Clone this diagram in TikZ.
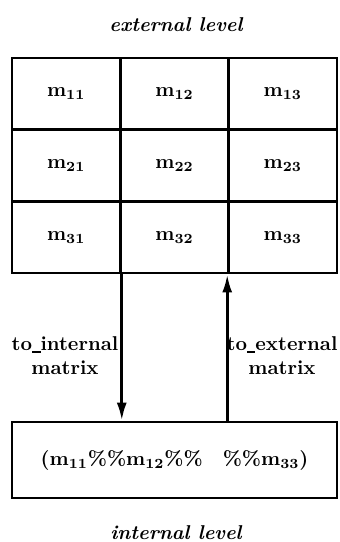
\documentclass[tikz,border=0pt]{standalone}
\usepackage{tikz}
\usetikzlibrary{arrows.meta, positioning}
\newcommand{\melem}[1]{m$_{\mathbf{#1}}$}
\newcommand{\uscore}{\rule[-0.2ex]{0.42em}{0.9pt}}

\begin{document}
\begin{tikzpicture}[x=0.5pt, y=-0.5pt,
    cell/.style={draw, line width=1.4pt, minimum width=54.17pt, minimum height=35.83pt, inner sep=0pt, font=\bfseries},
    storebox/.style={draw, line width=1.4pt, minimum width=162.5pt, minimum height=38pt, inner sep=0pt, font=\bfseries},
    lbl/.style={align=center, font=\bfseries, inner sep=0pt},
    level/.style={font=\bfseries\itshape, inner sep=0pt},
    arrow/.style={line width=1.4pt, -{Latex[length=9pt, width=5pt]}}
]
    \useasboundingbox (0,0) rectangle (339,542);

    \node[level] (ext) at (176,25) {external level};

    \node[cell] (m11) at (66.2,93.8) {\melem{11}};
    \node[cell] (m12) at (174.5,93.8) {\melem{12}};
    \node[cell] (m13) at (282.8,93.8) {\melem{13}};
    \node[cell] (m21) at (66.2,165.5) {\melem{21}};
    \node[cell] (m22) at (174.5,165.5) {\melem{22}};
    \node[cell] (m23) at (282.8,165.5) {\melem{23}};
    \node[cell] (m31) at (66.2,237.2) {\melem{31}};
    \node[cell] (m32) at (174.5,237.2) {\melem{32}};
    \node[cell] (m33) at (282.8,237.2) {\melem{33}};

    \node[storebox] (store) at (174.5,460) {(\melem{11}\%\%\melem{12}\%\%\quad\%\%\melem{33})};

    \node[lbl] (toint) at (65,356) {to\uscore internal\\matrix};
    \node[lbl] (toext) at (282,356) {to\uscore external\\matrix};

    \draw[arrow] (m31.south east) -- (m31.south east |- store.north);
    \draw[arrow] (m33.south west |- store.north) -- (m33.south west);

    \node[level] (int) at (176,533) {internal level};
\end{tikzpicture}
\end{document}
